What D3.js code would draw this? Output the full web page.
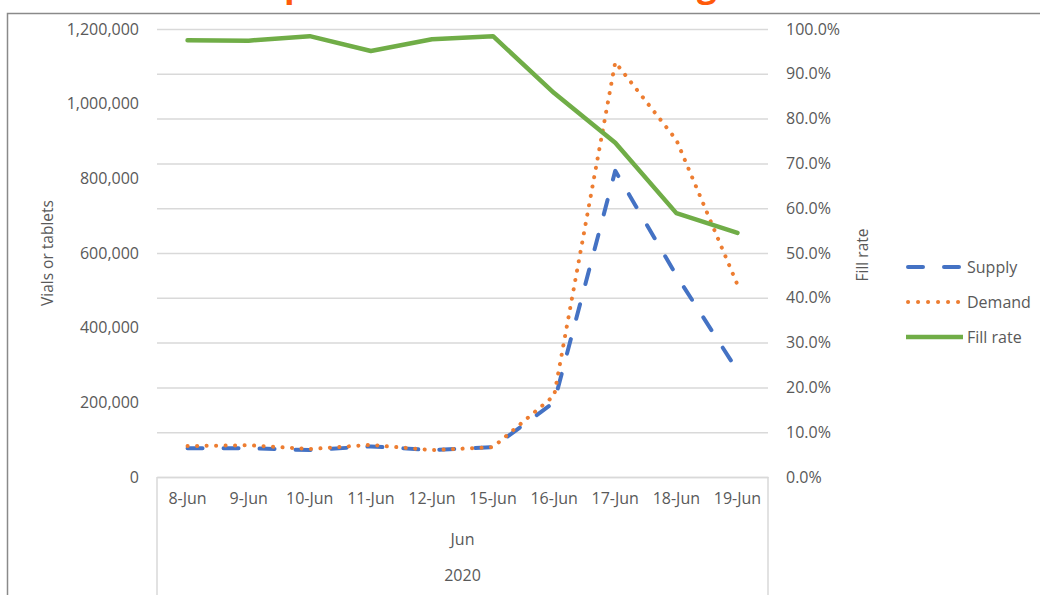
<!DOCTYPE html>
<html>
<head>
<meta charset="utf-8">
<script src="https://cdn.jsdelivr.net/npm/d3@7"></script>
<style>
  html, body { margin: 0; padding: 0; background: #fff; }
  svg { display: block; }
  text { font-family: "Open Sans", "Noto Sans", sans-serif; }
</style>
</head>
<body>
<svg id="chart" width="1040" height="595"></svg>
<script>
// ---- data ----
const categories = ["8-Jun", "9-Jun", "10-Jun", "11-Jun", "12-Jun", "15-Jun", "16-Jun", "17-Jun", "18-Jun", "19-Jun"];
const supply   = [77000, 77000, 72000, 82000, 72000, 80000, 200000, 820000, 540000, 285000];
const demand   = [83000, 85000, 75000, 86000, 72000, 80000, 218000, 1111000, 903000, 515000];
const fillRate = [0.975, 0.974, 0.984, 0.951, 0.977, 0.984, 0.857, 0.746, 0.589, 0.545];
const leftTicks  = [0, 200000, 400000, 600000, 800000, 1000000, 1200000];
const rightTicks = [0, 0.1, 0.2, 0.3, 0.4, 0.5, 0.6, 0.7, 0.8, 0.9, 1.0];
const groupLabel = "Jun";
const yearLabel = "2020";
const titleText = "Impact of COVID-19 on drug stocks";
const seriesNames = ["Supply", "Demand", "Fill rate"];
const leftTitle = "Vials or tablets";
const rightTitle = "Fill rate";

// ---- layout ----
const svg = d3.select("#chart");
const L = 157, R = 768, T = 29, B = 477;
const textColor = "#595959";
const gridColor = "#d9d9d9";
const colors = { supply: "#4472C4", demand: "#ED7D31", fill: "#70AD47" };

const x = d3.scaleBand().domain(categories).range([L, R]).padding(0);
const cx = d => x(d) + x.bandwidth() / 2;
const yL = d3.scaleLinear().domain([0, 1200000]).range([B, T]);
const yR = d3.scaleLinear().domain([0, 1]).range([B, T]);

// outer chart border
svg.append("rect").attr("x", 7.5).attr("y", 13.5).attr("width", 1100).attr("height", 700)
  .attr("fill", "none").attr("stroke", "#8a8a8a").attr("stroke-width", 1.5);

// title (mostly cut off above the frame, as in the reference)
const title = svg.append("text").text(titleText)
  .attr("x", 0).attr("y", -2).attr("font-size", 30).attr("font-weight", "bold")
  .attr("fill", "#FF5A0A");
(function placeTitle() {
  const n = title.node();
  const ip = titleText.indexOf("p"), ig = titleText.indexOf("g");
  const xp = n.getStartPositionOfChar(ip).x, xg = n.getStartPositionOfChar(ig).x;
  const s = (697 - 284) / (xg - xp);
  const fs = 30 * s;
  title.attr("font-size", fs);
  const xp2 = n.getStartPositionOfChar(ip).x;
  title.attr("x", 284 - xp2).attr("y", 5 - 0.24 * fs);
})();

// gridlines + right axis
const rightAxis = d3.axisRight(yR).tickValues(rightTicks)
  .tickSize(-(R - L)).tickPadding(18).tickFormat(d3.format(".1%"));
const gR = svg.append("g").attr("transform", `translate(${R},0)`).call(rightAxis);
gR.select(".domain").remove();
gR.selectAll(".tick line").attr("stroke", gridColor).attr("stroke-width", 1.5);
gR.selectAll(".tick text").attr("fill", textColor).attr("font-size", 16);

// left axis
const leftAxis = d3.axisLeft(yL).tickValues(leftTicks).tickSize(0).tickPadding(18)
  .tickFormat(d3.format(","));
const gL = svg.append("g").attr("transform", `translate(${L},0)`).call(leftAxis);
gL.select(".domain").remove();
gL.selectAll(".tick text").attr("fill", textColor).attr("font-size", 16);

// bottom axis (multi-level)
const bottomAxis = d3.axisBottom(x).tickSize(0).tickSizeOuter(0).tickPadding(16);
const gB = svg.append("g").attr("transform", `translate(0,${B})`).call(bottomAxis);
gB.select(".domain").attr("stroke", gridColor).attr("stroke-width", 1.5);
gB.selectAll(".tick text").attr("fill", textColor).attr("font-size", 16);
[L, R].forEach(xx => {
  svg.append("line").attr("x1", xx).attr("x2", xx).attr("y1", B).attr("y2", 600)
    .attr("stroke", gridColor).attr("stroke-width", 1.5);
});
svg.append("text").text(groupLabel).attr("x", (L + R) / 2).attr("y", 545)
  .attr("text-anchor", "middle").attr("fill", textColor).attr("font-size", 16);
svg.append("text").text(yearLabel).attr("x", (L + R) / 2).attr("y", 581)
  .attr("text-anchor", "middle").attr("fill", textColor).attr("font-size", 16);

// axis titles
svg.append("text").text(leftTitle)
  .attr("transform", `translate(53,${(T + B) / 2}) rotate(-90)`)
  .attr("text-anchor", "middle").attr("fill", textColor).attr("font-size", 15.5);
svg.append("text").text(rightTitle)
  .attr("transform", `translate(868,${(T + B) / 2 + 2}) rotate(-90)`)
  .attr("text-anchor", "middle").attr("fill", textColor).attr("font-size", 15.5);

// series
const lineL = d3.line().x((d, i) => cx(categories[i])).y(d => yL(d));
const lineR = d3.line().x((d, i) => cx(categories[i])).y(d => yR(d));

svg.append("path").attr("d", lineL(supply)).attr("fill", "none")
  .attr("stroke", colors.supply).attr("stroke-width", 4)
  .attr("stroke-linecap", "round").attr("stroke-linejoin", "round")
  .attr("stroke-dasharray", "15,21");
svg.append("path").attr("d", lineL(demand)).attr("fill", "none")
  .attr("stroke", colors.demand).attr("stroke-width", 4)
  .attr("stroke-linecap", "round").attr("stroke-linejoin", "round")
  .attr("stroke-dasharray", "0.1,9.4");
svg.append("path").attr("d", lineR(fillRate)).attr("fill", "none")
  .attr("stroke", colors.fill).attr("stroke-width", 4.5)
  .attr("stroke-linejoin", "round").attr("stroke-linecap", "round");

// legend
const legend = [
  { name: seriesNames[0], y: 267, color: colors.supply, dash: "15,21", cap: "round", w: 4, x1: 908, x2: 960 },
  { name: seriesNames[1], y: 302, color: colors.demand, dash: "0.1,9.9", cap: "round", w: 4, x1: 908, x2: 959 },
  { name: seriesNames[2], y: 337, color: colors.fill, dash: null, cap: "butt", w: 4.5, x1: 906, x2: 963 }
];
legend.forEach(l => {
  svg.append("line").attr("x1", l.x1).attr("x2", l.x2).attr("y1", l.y).attr("y2", l.y)
    .attr("stroke", l.color).attr("stroke-width", l.w).attr("stroke-linecap", l.cap)
    .attr("stroke-dasharray", l.dash);
  svg.append("text").text(l.name).attr("x", 967).attr("y", l.y + 6)
    .attr("fill", textColor).attr("font-size", 16);
});
</script>
</body>
</html>
